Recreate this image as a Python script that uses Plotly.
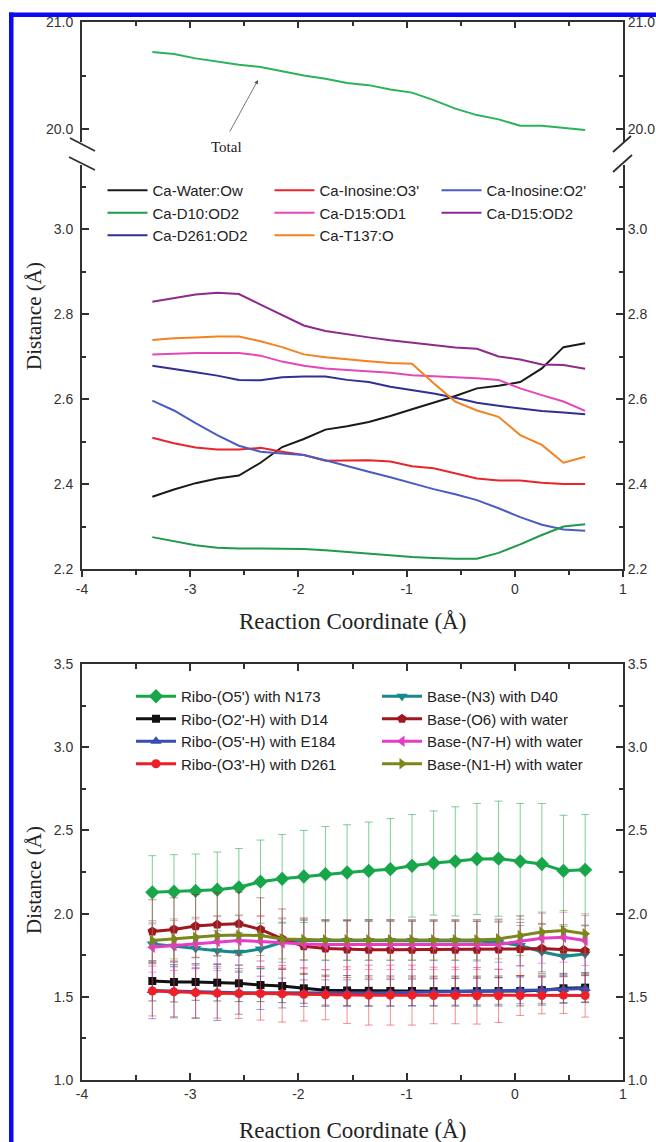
import plotly.graph_objects as go

# ---------------- data ----------------
x_rc = [-3.35, -3.15, -2.95, -2.75, -2.55, -2.35, -2.15, -1.95, -1.75, -1.55, -1.35,
        -1.15, -0.95, -0.75, -0.55, -0.35, -0.15, 0.05, 0.25, 0.45, 0.65]

# top panel (Ca coordination distances)
total = [20.72, 20.70, 20.66, 20.63, 20.60, 20.58, 20.54, 20.50, 20.47, 20.43, 20.41,
         20.37, 20.34, 20.27, 20.19, 20.13, 20.09, 20.03, 20.03, 20.01, 19.99]
ca_water = [2.370, 2.387, 2.402, 2.413, 2.420, 2.450, 2.487, 2.506, 2.528, 2.536, 2.546,
            2.560, 2.576, 2.591, 2.607, 2.625, 2.631, 2.640, 2.672, 2.722, 2.731]
ca_o3 = [2.509, 2.496, 2.486, 2.481, 2.481, 2.485, 2.476, 2.468, 2.455, 2.456, 2.456,
         2.453, 2.442, 2.437, 2.425, 2.413, 2.408, 2.408, 2.403, 2.400, 2.400]
ca_o2 = [2.596, 2.573, 2.543, 2.515, 2.490, 2.476, 2.472, 2.468, 2.456, 2.442, 2.429,
         2.416, 2.402, 2.388, 2.376, 2.362, 2.343, 2.322, 2.304, 2.293, 2.290]
ca_d10 = [2.275, 2.265, 2.256, 2.250, 2.248, 2.248, 2.247, 2.247, 2.244, 2.240, 2.236,
          2.232, 2.228, 2.226, 2.224, 2.224, 2.238, 2.258, 2.280, 2.300, 2.305]
ca_d15_od1 = [2.705, 2.707, 2.708, 2.708, 2.708, 2.702, 2.688, 2.678, 2.672, 2.668, 2.665,
              2.662, 2.656, 2.654, 2.651, 2.649, 2.645, 2.625, 2.609, 2.594, 2.572]
ca_d15_od2 = [2.829, 2.838, 2.846, 2.850, 2.847, 2.822, 2.797, 2.773, 2.760, 2.752, 2.745,
              2.738, 2.732, 2.726, 2.721, 2.718, 2.700, 2.693, 2.681, 2.680, 2.671]
ca_d261 = [2.678, 2.671, 2.663, 2.655, 2.645, 2.644, 2.651, 2.653, 2.653, 2.645, 2.640,
           2.629, 2.621, 2.613, 2.603, 2.591, 2.584, 2.578, 2.572, 2.568, 2.564]
ca_t137 = [2.739, 2.743, 2.745, 2.747, 2.747, 2.736, 2.722, 2.705, 2.698, 2.693, 2.689,
           2.685, 2.683, 2.637, 2.594, 2.573, 2.558, 2.515, 2.492, 2.450, 2.464]

top_names = ["Ca-Water:Ow", "Ca-Inosine:O3'", "Ca-Inosine:O2'", "Ca-D10:OD2",
             "Ca-D15:OD1", "Ca-D15:OD2", "Ca-D261:OD2", "Ca-T137:O"]
top_colors = ["#1a1a1a", "#e8252d", "#4a5cc4", "#1f9a4c", "#e447b9", "#8e2a8e",
              "#2f3092", "#f3821f"]

# bottom panel (hydrogen bond distances, mean and std)
hb_n173 = [2.128, 2.132, 2.136, 2.144, 2.158, 2.192, 2.209, 2.223, 2.237, 2.247, 2.257,
           2.267, 2.287, 2.304, 2.314, 2.328, 2.330, 2.314, 2.298, 2.257, 2.263]
hb_n173_err = [0.220, 0.222, 0.222, 0.226, 0.233, 0.250, 0.266, 0.277, 0.286, 0.287, 0.293,
               0.304, 0.308, 0.313, 0.328, 0.334, 0.346, 0.348, 0.364, 0.334, 0.332]
hb_d14 = [1.595, 1.589, 1.589, 1.585, 1.581, 1.571, 1.565, 1.551, 1.540, 1.538, 1.536,
          1.535, 1.535, 1.534, 1.534, 1.534, 1.535, 1.535, 1.540, 1.551, 1.555]
hb_d14_err = [0.12, 0.12, 0.11, 0.11, 0.11, 0.10, 0.10, 0.09, 0.09, 0.09, 0.09,
              0.09, 0.09, 0.09, 0.09, 0.09, 0.09, 0.09, 0.09, 0.09, 0.09]
hb_e184 = [1.538, 1.534, 1.530, 1.528, 1.525, 1.524, 1.523, 1.522, 1.522, 1.522, 1.523,
           1.524, 1.526, 1.528, 1.530, 1.532, 1.535, 1.538, 1.541, 1.546, 1.550]
hb_e184_err = [0.17, 0.16, 0.16, 0.17, 0.13, 0.10, 0.09, 0.08, 0.08, 0.08, 0.08,
               0.08, 0.08, 0.08, 0.08, 0.08, 0.08, 0.08, 0.08, 0.08, 0.08]
hb_d261 = [1.535, 1.530, 1.525, 1.522, 1.520, 1.520, 1.518, 1.515, 1.512, 1.510, 1.510,
           1.510, 1.510, 1.508, 1.508, 1.506, 1.506, 1.508, 1.508, 1.510, 1.508]
hb_d261_err = [0.15, 0.15, 0.15, 0.15, 0.15, 0.16, 0.17, 0.16, 0.15, 0.17, 0.18,
               0.18, 0.18, 0.17, 0.17, 0.17, 0.16, 0.12, 0.11, 0.11, 0.13]
hb_n3 = [1.818, 1.804, 1.791, 1.777, 1.767, 1.787, 1.828, 1.838, 1.838, 1.838, 1.838,
         1.838, 1.838, 1.838, 1.838, 1.835, 1.828, 1.808, 1.771, 1.743, 1.757]
hb_n3_err = [0.12, 0.12, 0.12, 0.12, 0.12, 0.12, 0.12, 0.12, 0.12, 0.12, 0.12,
             0.12, 0.12, 0.12, 0.12, 0.12, 0.12, 0.12, 0.12, 0.12, 0.12]
hb_o6 = [1.893, 1.905, 1.925, 1.935, 1.939, 1.905, 1.848, 1.804, 1.791, 1.785, 1.783,
         1.783, 1.783, 1.783, 1.783, 1.783, 1.785, 1.787, 1.791, 1.783, 1.777]
hb_o6_err = [0.19, 0.19, 0.19, 0.19, 0.19, 0.19, 0.18, 0.17, 0.17, 0.17, 0.17,
             0.17, 0.17, 0.17, 0.17, 0.17, 0.17, 0.16, 0.15, 0.15, 0.15]
hb_n7 = [1.798, 1.808, 1.818, 1.832, 1.838, 1.832, 1.824, 1.818, 1.814, 1.814, 1.814,
         1.814, 1.814, 1.814, 1.814, 1.814, 1.814, 1.834, 1.852, 1.858, 1.838]
hb_n7_err = [0.15, 0.15, 0.15, 0.15, 0.15, 0.15, 0.15, 0.15, 0.15, 0.15, 0.15,
             0.15, 0.15, 0.15, 0.15, 0.15, 0.15, 0.15, 0.15, 0.15, 0.15]
hb_n1 = [1.838, 1.848, 1.858, 1.868, 1.872, 1.868, 1.848, 1.844, 1.842, 1.842, 1.842,
         1.842, 1.842, 1.842, 1.842, 1.842, 1.848, 1.868, 1.889, 1.899, 1.879]
hb_n1_err = [0.12, 0.12, 0.12, 0.12, 0.12, 0.12, 0.12, 0.12, 0.12, 0.12, 0.12,
             0.12, 0.12, 0.12, 0.12, 0.12, 0.12, 0.12, 0.12, 0.12, 0.12]

bot_names = ["Ribo-(O5') with N173", "Ribo-(O2'-H) with D14", "Ribo-(O5'-H) with E184",
             "Ribo-(O3'-H) with D261", "Base-(N3) with D40", "Base-(O6) with water",
             "Base-(N7-H) with water", "Base-(N1-H) with water"]
bot_colors = ["#18a64a", "#111111", "#3a4db5", "#ee1f26", "#18898a", "#a0171f",
              "#e63cc6", "#7b861b"]
bot_err_colors = ["rgba(24,166,74,0.55)", "rgba(17,17,17,0.5)", "rgba(58,77,181,0.55)",
                  "rgba(238,31,38,0.5)", "rgba(24,137,138,0.5)", "rgba(160,23,31,0.5)",
                  "rgba(230,60,198,0.5)", "rgba(123,134,27,0.5)"]
bot_symbols = ["diamond", "square", "triangle-up", "circle", "triangle-down", "pentagon",
               "triangle-left", "triangle-right"]
bot_sizes = [11, 8, 10, 9, 10, 10, 10, 10]
bot_legendrank = [1, 3, 5, 7, 2, 4, 6, 8]

x_tickvals = [-4, -3, -2, -1, 0, 1]
x_ticktext = ["-4", "-3", "-2", "-1", "0", "1"]

# ---------------- layout geometry (pixels) ----------------
W, H = 656, 1142
ML, MR, MT, MB = 82, 33, 22, 62
PW = W - ML - MR
PH = H - MT - MB


def pxx(p):
    return (p - ML) / PW


def pxy(p):
    return (H - MB - p) / PH


AX = "#303030"
SANS = "Liberation Sans, Arial, sans-serif"
SERIF = "Liberation Serif, Times New Roman, serif"

fig = go.Figure()

top_series = [ca_water, ca_o3, ca_o2, ca_d10, ca_d15_od1, ca_d15_od2, ca_d261, ca_t137]
for name, col, ys in zip(top_names, top_colors, top_series):
    fig.add_trace(go.Scatter(x=x_rc, y=ys, name=name, mode="lines",
                             line=dict(color=col, width=2),
                             xaxis="x", yaxis="y", legend="legend"))

fig.add_trace(go.Scatter(x=x_rc, y=total, name="Total", mode="lines",
                         line=dict(color="#2bb25a", width=2),
                         xaxis="x2", yaxis="y2", showlegend=False))

bot_series = [hb_n173, hb_d14, hb_e184, hb_d261, hb_n3, hb_o6, hb_n7, hb_n1]
bot_errs = [hb_n173_err, hb_d14_err, hb_e184_err, hb_d261_err, hb_n3_err, hb_o6_err,
            hb_n7_err, hb_n1_err]
for i, (name, ys, es) in enumerate(zip(bot_names, bot_series, bot_errs)):
    fig.add_trace(go.Scatter(
        x=x_rc, y=ys, name=name, mode="lines+markers",
        line=dict(color=bot_colors[i], width=3),
        marker=dict(symbol=bot_symbols[i], size=bot_sizes[i], color=bot_colors[i],
                    line=dict(width=0)),
        error_y=dict(type="data", array=es, visible=True, color=bot_err_colors[i],
                     thickness=1, width=4),
        xaxis="x3", yaxis="y5", legend="legend2", legendrank=bot_legendrank[i]))

# empty traces so that the right-hand mirror axes are drawn
for xa, ya in [("x", "y3"), ("x2", "y4"), ("x3", "y6")]:
    fig.add_trace(go.Scatter(x=[], y=[], xaxis=xa, yaxis=ya, showlegend=False,
                             hoverinfo="skip"))

# domains
dom_up = [pxy(142), 1.0]
dom_lo = [pxy(569), pxy(165)]
dom_bot = [0.0, pxy(664)]
rng_up = [21.0 - (142 - 22) / 107.0, 21.0]
rng_lo = [2.2, 2.2 + (569 - 165) / 425.0]
rng_bot = [1.0, 3.5]

yax_common = dict(showline=True, linewidth=2, linecolor=AX, ticks="inside", ticklen=7,
                  tickwidth=1.5, tickcolor=AX, showgrid=False, zeroline=False,
                  tickformat=".1f", tickfont=dict(family=SANS, size=14, color="#333"))
yl = dict(ticklabelstandoff=4)
yr = dict(ticklabelstandoff=0)

xax_common = dict(range=[-4, 1], showline=True, linewidth=2, linecolor=AX,
                  tickvals=x_tickvals, ticktext=x_ticktext, tickwidth=1.5, tickcolor=AX,
                  showgrid=False, zeroline=False,
                  tickfont=dict(family=SANS, size=14, color="#333"))


def minor(dt, t0, ticks="inside", ln=4):
    return dict(dtick=dt, tick0=t0, ticks=ticks, ticklen=ln, tickcolor=AX, tickwidth=1.5)


fig.update_layout(
    width=W, height=H,
    margin=dict(l=ML, r=MR, t=MT, b=MB, autoexpand=False),
    paper_bgcolor="white", plot_bgcolor="white",
    font=dict(family=SANS, size=14, color="#222"),
    xaxis=dict(**xax_common, anchor="y", domain=[0, 1], ticks="outside", ticklen=6,
               minor=minor(0.5, -4, "outside", 4)),
    yaxis=dict(**yax_common, **yl, anchor="x", domain=dom_lo, range=rng_lo, dtick=0.2,
               tick0=2.2, minor=minor(0.1, 2.2)),
    yaxis3=dict(**yax_common, **yr, anchor="x", overlaying="y", side="right", range=rng_lo,
                dtick=0.2, tick0=2.2, minor=minor(0.1, 2.2)),
    xaxis2=dict(**{k: v for k, v in xax_common.items() if k != "tickfont"},
                anchor="y2", domain=[0, 1], side="top", ticks="inside", ticklen=6,
                showticklabels=False, matches="x", minor=minor(0.5, -4, "inside", 4)),
    yaxis2=dict(**yax_common, **yl, anchor="x2", domain=dom_up, range=rng_up, dtick=1,
                tick0=20, minor=minor(0.5, 20)),
    yaxis4=dict(**yax_common, **yr, anchor="x2", overlaying="y2", side="right", range=rng_up,
                dtick=1, tick0=20, minor=minor(0.5, 20)),
    xaxis3=dict(**xax_common, anchor="y5", domain=[0, 1], ticks="inside", ticklen=7,
                mirror="ticks", minor=minor(0.5, -4, "inside", 5)),
    yaxis5=dict(**yax_common, **yl, anchor="x3", domain=dom_bot, range=rng_bot, dtick=0.5,
                tick0=1, minor=minor(0.25, 1)),
    yaxis6=dict(**yax_common, **yr, anchor="x3", overlaying="y5", side="right", range=rng_bot,
                dtick=0.5, tick0=1, minor=minor(0.25, 1)),
    legend=dict(orientation="h", x=pxx(102.5), y=pxy(174), xanchor="left", yanchor="top",
                entrywidth=112, entrywidthmode="pixels", itemwidth=40,
                bgcolor="rgba(0,0,0,0)", font=dict(family=SANS, size=15, color="#222"),
                traceorder="normal", tracegroupgap=0),
    legend2=dict(orientation="h", x=pxx(131), y=pxy(680), xanchor="left", yanchor="top",
                 entrywidth=191, entrywidthmode="pixels", itemwidth=40,
                 bgcolor="rgba(0,0,0,0)", font=dict(family=SANS, size=15, color="#222"),
                 traceorder="normal", tracegroupgap=0),
    showlegend=True,
)

# axis titles and the "Total" label
ann = [
    dict(text="Reaction Coordinate (Å)", x=0.5, y=pxy(621), xref="paper", yref="paper",
         xanchor="center", yanchor="middle",
         showarrow=False, font=dict(family=SERIF, size=23, color="#222")),
    dict(text="Reaction Coordinate (Å)", x=0.5, y=pxy(1130), xref="paper", yref="paper",
         xanchor="center", yanchor="middle",
         showarrow=False, font=dict(family=SERIF, size=23, color="#222")),
    dict(text="Distance (Å)", x=pxx(34), y=pxy(316), xref="paper", yref="paper",
         xanchor="center", yanchor="middle",
         textangle=-90, showarrow=False, font=dict(family=SERIF, size=21, color="#222")),
    dict(text="Distance (Å)", x=pxx(34), y=pxy(880), xref="paper", yref="paper",
         xanchor="center", yanchor="middle",
         textangle=-90, showarrow=False, font=dict(family=SERIF, size=21, color="#222")),
    dict(text="Total", x=pxx(226), y=pxy(147), xref="paper", yref="paper",
         xanchor="center", yanchor="middle",
         showarrow=False, font=dict(family=SERIF, size=15, color="#222")),
    dict(text="", x=pxx(258), y=pxy(80), xref="paper", yref="paper",
         ax=229 - 258, ay=133 - 80, axref="pixel", ayref="pixel",
         showarrow=True, arrowhead=2, arrowsize=1, arrowwidth=0.8, arrowcolor="#555"),
]
fig.update_layout(annotations=ann)

# axis-break marks and the blue frame
shapes = []
for (x0, y0, x1, y1) in [(70, 138, 95, 151), (69, 157, 95, 170),
                         (613, 152, 631, 136), (613, 172, 632, 155)]:
    shapes.append(dict(type="line", xref="paper", yref="paper",
                       x0=pxx(x0), y0=pxy(y0), x1=pxx(x1), y1=pxy(y1),
                       line=dict(color=AX, width=1.8)))
shapes.append(dict(type="rect", xref="paper", yref="paper",
                   x0=pxx(9), x1=pxx(13.5), y0=pxy(H + 5), y1=pxy(12.5),
                   fillcolor="#0a0af5", line=dict(width=0), layer="above"))
shapes.append(dict(type="rect", xref="paper", yref="paper",
                   x0=pxx(9), x1=pxx(W + 5), y0=pxy(17), y1=pxy(12.5),
                   fillcolor="#0a0af5", line=dict(width=0), layer="above"))
fig.update_layout(shapes=shapes)

fig.write_html("out.html", config={"displayModeBar": False},
               post_script="document.body.style.margin='0px';")
